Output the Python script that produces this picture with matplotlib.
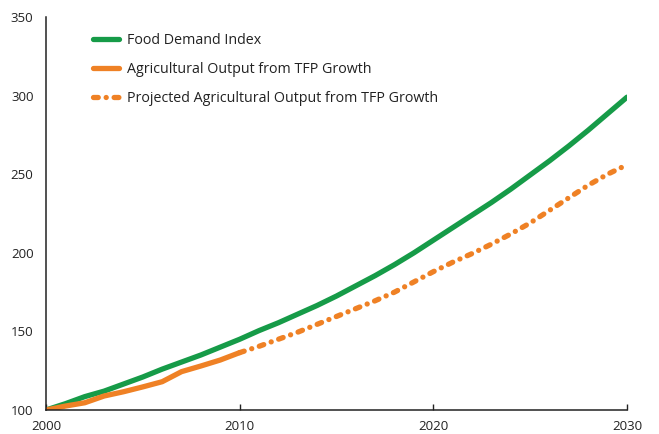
import matplotlib.pyplot as plt

years = list(range(2000, 2031))
food_demand = [100, 104, 108.5, 112, 116.5, 121, 126, 130.5, 135, 140, 145,
               150.5, 155.5, 161, 166.5, 172.5, 179, 185.5, 192.5, 200, 208,
               216, 224, 232, 240.5, 249.5, 258.5, 268, 278, 288.5, 299]

actual_years = list(range(2000, 2011))
ag_output = [100, 102.5, 104.6, 108.9, 111.6, 114.7, 118, 124.4, 128, 131.8, 136.5]

proj_years = list(range(2010, 2031))
ag_projected = [136.5, 140.5, 145, 149.5, 154.5, 159.5, 164.5, 169.5, 175, 181.5, 188,
                194, 199.5, 205.5, 212, 219, 227, 235, 243, 250, 256]

green = "#169b48"
orange = "#ef8125"

fig = plt.figure(figsize=(6.59, 4.34), dpi=100)
ax = fig.add_axes([0.0698, 0.0553, 0.8816, 0.9055])

ax.plot(years, food_demand, color=green, lw=3.8, solid_capstyle="round",
        label="Food Demand Index")
ax.plot(actual_years, ag_output, color=orange, lw=3.8, solid_capstyle="round",
        label="Agricultural Output from TFP Growth")
ax.plot(proj_years, ag_projected, color=orange, lw=3.8, dash_capstyle="round",
        dashes=(0.9, 1.5, 0.01, 1.5),
        label="Projected Agricultural Output from TFP Growth")

ax.set_xlim(2000, 2030)
ax.set_ylim(100, 350)
ax.set_xticks([2000, 2010, 2020, 2030])
ax.set_yticks([100, 150, 200, 250, 300, 350])

for s in ["top", "right"]:
    ax.spines[s].set_visible(False)
for s in ["left", "bottom"]:
    ax.spines[s].set_linewidth(1.1)
    ax.spines[s].set_color("#222222")

ax.tick_params(axis="x", direction="in", length=4, width=1, pad=7,
               labelsize=9.5, colors="#222222")
ax.tick_params(axis="y", length=0, pad=9, labelsize=9.5, colors="#222222")
for lab in ax.get_xticklabels() + ax.get_yticklabels():
    lab.set_family("Open Sans")

leg = ax.legend(loc="upper left", bbox_to_anchor=(0.081, 0.96), frameon=False,
                borderpad=0, borderaxespad=0, handlelength=1.8,
                handletextpad=0.6, labelspacing=0.98,
                prop={"family": "Open Sans", "size": 10.3})
for t in leg.get_texts():
    t.set_color("#222222")

fig.savefig("out.png", dpi=100)
